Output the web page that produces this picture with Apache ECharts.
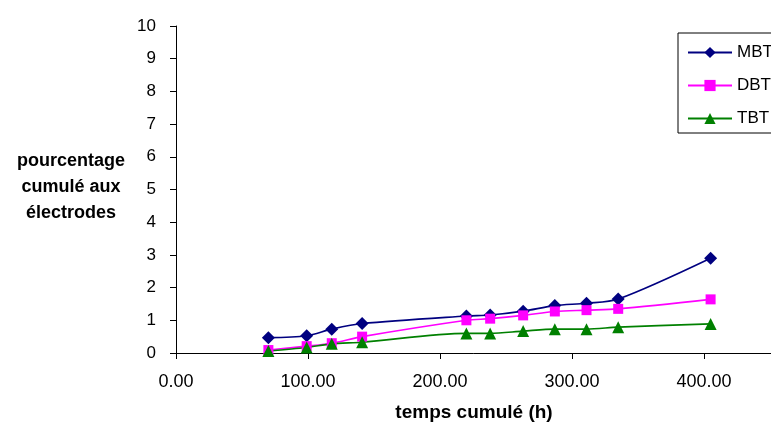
<!DOCTYPE html>
<html><head><meta charset="utf-8">
<script src="https://cdn.jsdelivr.net/npm/echarts@6/dist/echarts.min.js"></script>
<style>html,body{margin:0;padding:0;background:#fff}#c{width:771px;height:430px}</style>
</head><body><div id="c"></div>
<script>
var times = [70, 99, 118, 141, 220, 238, 263, 287, 311, 335, 405];
var mbt = [0.47, 0.53, 0.73, 0.90, 1.13, 1.16, 1.28, 1.45, 1.52, 1.65, 2.90];
var dbt = [0.09, 0.21, 0.30, 0.50, 1.00, 1.05, 1.15, 1.27, 1.31, 1.35, 1.64];
var tbt = [0.06, 0.17, 0.28, 0.33, 0.60, 0.60, 0.67, 0.73, 0.73, 0.79, 0.89];
var seriesNames = ['MBT', 'DBT', 'TBT'];
function pairs(v){ return times.map(function(t,i){ return [t, v[i]]; }); }
var chart = echarts.init(document.getElementById('c'), null, {renderer:'canvas'});
var font = 'Arial, "Liberation Sans", sans-serif';
chart.setOption({
  animation:false,
  backgroundColor:'#fff',
  textStyle:{fontFamily:font},
  grid:{left:176, top:26, width:660, height:327, containLabel:false, outerBoundsMode:'none'},
  legend:{
    orient:'vertical', left:678, top:33,
    data:seriesNames,
    itemWidth:44, itemHeight:14, itemGap:16,
    padding:[11, 40, 6, 9],
    borderColor:'#000', borderWidth:1, backgroundColor:'#fff',
    textStyle:{fontSize:17, color:'#000', fontFamily:font}
  },
  xAxis:{
    type:'value', min:0, max:500, interval:100,
    axisLine:{lineStyle:{color:'#000', width:1}},
    axisTick:{show:true, inside:false, length:6, lineStyle:{color:'#000'}},
    axisLabel:{fontSize:18, color:'#000', margin:20, formatter:function(v){return v.toFixed(2);}},
    splitLine:{show:false}
  },
  yAxis:{
    type:'value', min:0, max:10, interval:1,
    axisLine:{show:true, lineStyle:{color:'#000', width:1}},
    axisTick:{show:true, length:6, lineStyle:{color:'#000'}},
    axisLabel:{fontSize:17, color:'#000', margin:20},
    splitLine:{show:false}
  },
  graphic:[
    {type:'text', style:{text:'pourcentage\ncumulé aux\nélectrodes', x:71, y:187, align:'center', verticalAlign:'middle', font:'bold 18px '+font, fill:'#000', lineHeight:26}},
    {type:'text', style:{text:'temps cumulé (h)', x:474, y:413, align:'center', verticalAlign:'middle', font:'bold 19px '+font, fill:'#000'}}
  ],
  series:[
    {name:'MBT', type:'line', data:pairs(mbt), smooth:0.3, symbol:'diamond', symbolSize:13,
     lineStyle:{color:'#000080', width:1.6}, itemStyle:{color:'#000080'}},
    {name:'DBT', type:'line', data:pairs(dbt), smooth:0.3, symbol:'rect', symbolSize:10,
     lineStyle:{color:'#FF00FF', width:1.6}, itemStyle:{color:'#FF00FF'}},
    {name:'TBT', type:'line', data:pairs(tbt), smooth:0.3, symbol:'triangle', symbolSize:12,
     lineStyle:{color:'#008000', width:1.6}, itemStyle:{color:'#008000'}}
  ]
});
</script></body></html>
